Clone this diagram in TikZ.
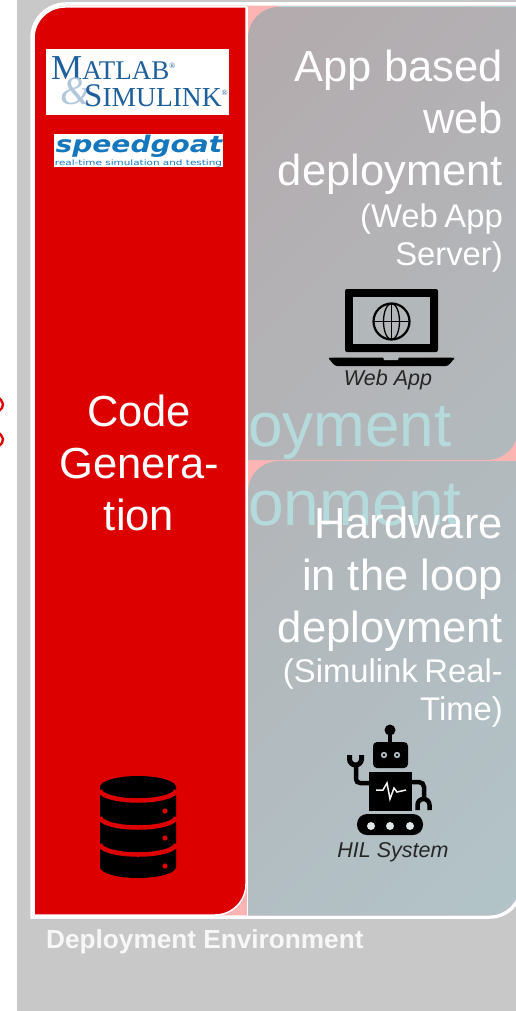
\documentclass[tikz,border=0pt]{standalone}
\usepackage{fontspec}
\setmainfont{Liberation Sans}
\newfontfamily\logoserif{Liberation Serif}
\newfontfamily\goatfont{DejaVu Sans}
\usetikzlibrary{positioning}
\newcommand{\tightwords}{\spaceskip=.2em\relax}
\definecolor{frameback}{HTML}{C8C8C8}
\definecolor{codered}{HTML}{DC0000}
\definecolor{pinkback}{HTML}{FFB4B4}
\definecolor{ghostteal}{HTML}{B5DADC}
\definecolor{panelstart}{HTML}{B3AAAC}
\definecolor{panelend}{HTML}{B2C4C9}
\definecolor{logoblue}{HTML}{1F5F9B}
\definecolor{goatblue}{HTML}{1477BE}
\tikzset{
  bigtext/.style={text=white,align=right,anchor=north east,inner sep=0pt,font=\fontsize{43.5}{52}\selectfont},
  smalltext/.style={text=white,align=right,anchor=north east,inner sep=0pt,font=\fontsize{32.8}{38}\selectfont\tightwords},
  ghosttext/.style={text=ghostteal,anchor=base west,inner sep=0pt},
  icontext/.style={text=black!85,inner sep=0pt,font=\fontsize{21.5}{26}\selectfont\itshape},
  logotext/.style={text=logoblue,anchor=base west,inner sep=0pt},
  panel/.style={left color=panelstart,right color=panelend}
}
\begin{document}
\begin{tikzpicture}[x=1pt,y=-1pt]
  \useasboundingbox (0,0) rectangle (516,1011);
  \fill[white] (0,0) rectangle (516,1011);
  \fill[frameback] (17,0) rectangle (516,1011);

  % clipped marks on the left edge
  \draw[codered,line width=2.4pt,line join=round] (-1,398) -- (1,400) -- (3,404) -- (2,408) -- (-1,411);
  \draw[codered,line width=2.4pt,line join=round] (-1,433) -- (1,435) -- (3,439) -- (2,443) -- (-1,446);

  % frame and panels
  \begin{scope}
    \clip (0,0) rectangle (516,1011);
    \draw[white,line width=3.5pt,fill=pinkback] (32,917) -- (32,38) arc[start angle=180,end angle=270,radius=34] -- (521,4) -- (521,886) arc[start angle=0,end angle=90,radius=31] -- cycle;
    \draw[white,fill=codered,line width=1.5pt] (34,915) -- (34,38) arc[start angle=180,end angle=270,radius=31] -- (246,7) -- (246,884) arc[start angle=0,end angle=90,radius=31] -- cycle;
    \begin{scope}
      \clip (248,460) -- (248,38) arc[start angle=180,end angle=270,radius=31] -- (518,7) -- (518,429) arc[start angle=0,end angle=90,radius=31] -- cycle
        (248,915.5) -- (248,492) arc[start angle=180,end angle=270,radius=31] -- (519.5,461) -- (519.5,884.5) arc[start angle=0,end angle=90,radius=31] -- cycle;
      \shade[panel,transform canvas={rotate around={-45:(382,460)}}] (-33.5,-500) rectangle (797.5,1500);
    \end{scope}
    \draw[ghostteal,line width=.8pt] (279,6) -- (516,6);
    \draw[white,line width=1.5pt] (247.5,7) -- (247.5,915);
    \clip (249,0) rectangle (516,1011);
    \node[ghosttext,font=\fontsize{62}{62}\selectfont] (ghostone) at (248,446) {oyment};
    \node[ghosttext,font=\fontsize{64}{64}\selectfont] (ghosttwo) at (248,525) {onment};
  \end{scope}

  % logos
  \node[fill=white,minimum width=183pt,minimum height=66pt,inner sep=0pt] (matlabbox) at (137.5,82) {};
  \node[logotext,font=\logoserif\fontsize{35}{35}\selectfont] (matlabname) at (51,80) {M\fontsize{27}{27}\selectfont ATLAB\raisebox{11pt}{\fontsize{8}{8}\selectfont ®}};
  \node[logotext,text=logoblue!35!white,font=\logoserif\itshape\fontsize{40}{40}\selectfont] (matlabamp) at (60,105) {\&};
  \node[logotext,font=\logoserif\fontsize{33}{33}\selectfont] (simulinkname) at (84,107) {S\fontsize{27.5}{27.5}\selectfont IMULINK\raisebox{11pt}{\fontsize{8}{8}\selectfont ®}};
  \node[fill=white,minimum width=169pt,minimum height=33pt,inner sep=0pt] (goatbox) at (138.5,150.5) {};
  \node[text=goatblue,inner sep=0pt,xscale=1.22,font=\goatfont\fontsize{23}{23}\selectfont\bfseries\itshape] (goatname) at (139,146) {speedgoat};
  \node[text=goatblue,inner sep=0pt,xscale=1.39,font=\goatfont\fontsize{7.5}{8}\selectfont] (goatsub) at (138.5,163.5) {real-time simulation and testing};

  % left column
  \node[text=white,align=center,inner sep=0pt,font=\fontsize{43.5}{52}\selectfont] (codegen) at (139,463) {Code\\Genera-\\tion};
  \node[anchor=base west,inner sep=0pt,text=white!97!black,font=\fontsize{26.2}{30}\selectfont\bfseries] (envlabel) at (46,948) {Deployment Environment};

  % database icon
  \fill[black] (100,787) -- (100,867) arc[start angle=180,end angle=0,x radius=38,y radius=11] -- (176,787) arc[start angle=0,end angle=-180,x radius=38,y radius=11] -- cycle;
  \foreach \ypos in {790,817,844} {
    \draw[codered,line width=4.5pt] (100,\ypos) arc[start angle=180,end angle=0,x radius=38,y radius=10.5];
  }
  \foreach \ypos in {811,838,866} {
    \fill[codered] (165,\ypos) circle (2.6);
  }

  % right column texts
  \node[bigtext] (webtitle) at (503,50) {App based\\web\\deployment};
  \node[smalltext] (websub) at (503,204) {(Web App\\Server)};
  \node[bigtext] (hiltitle) at (503,507) {Hardware\\in the loop\\deployment};
  \node[smalltext] (hilsub) at (503,659) {(Simulink Real-\\Time)};

  % laptop icon
  \fill[black,rounded corners=2pt] (345,289) -- (438,289) -- (438,352) -- (345,352) -- cycle;
  \fill[panelstart!50!panelend] (353,297) rectangle (430,344);
  \draw[black,line width=2.2pt] (391.5,321.5) circle (18);
  \draw[black,line width=1.3pt] (391.5,321.5) ellipse (8 and 18);
  \draw[black,line width=1.3pt] (391.5,303.5) -- (391.5,339.5) (373.5,321.5) -- (409.5,321.5);
  \fill[black,rounded corners=2.5pt] (329,357.5) -- (454,357.5) -- (454,359) -- (448,366) -- (335,366) -- (329,359) -- cycle;
  \fill[panelstart!50!panelend] (383,356.5) -- (399,356.5) -- (398,360) -- (384,360) -- cycle;
  \node[icontext] (webapp) at (388,380) {Web App};

  % robot icon
  \fill[black] (390,730) circle (5.5);
  \fill[black] (388,730) rectangle (392,745);
  \fill[black,rounded corners=4pt] (373,742) rectangle (408,768);
  \fill[panelstart!30!panelend] (384,755) circle (3.2) (397,755) circle (3.2);
  \fill[black] (384,755) circle (1.4) (397,755) circle (1.4);
  \fill[black] (369,772) rectangle (412,811);
  \draw[white!85!panelend,line width=1.5pt] (376,790) -- (383,790) -- (387,783) -- (390,799) -- (394,788) -- (397,792) -- (406,790);
  \draw[black,line width=4.5pt,rounded corners=4pt] (369,783) -- (356,783) -- (356,766);
  \draw[black,line width=5pt] (349.5,755) -- (349.5,759) arc[start angle=180,end angle=0,radius=6] -- (361.5,755);
  \draw[black,line width=4.5pt,rounded corners=5pt] (412,782) -- (424,782) -- (424,800);
  \draw[black,line width=4.5pt] (417.5,810) -- (417.5,805) arc[start angle=180,end angle=360,radius=6] -- (429.5,810);
  \fill[black,rounded corners=10pt] (357,814) rectangle (423,835);
  \foreach \xpos in {371,390,410} {
    \fill[panelend!40!white] (\xpos,826) circle (4);
  }
  \node[icontext] (hilsystem) at (393,852) {HIL System};
\end{tikzpicture}
\end{document}
